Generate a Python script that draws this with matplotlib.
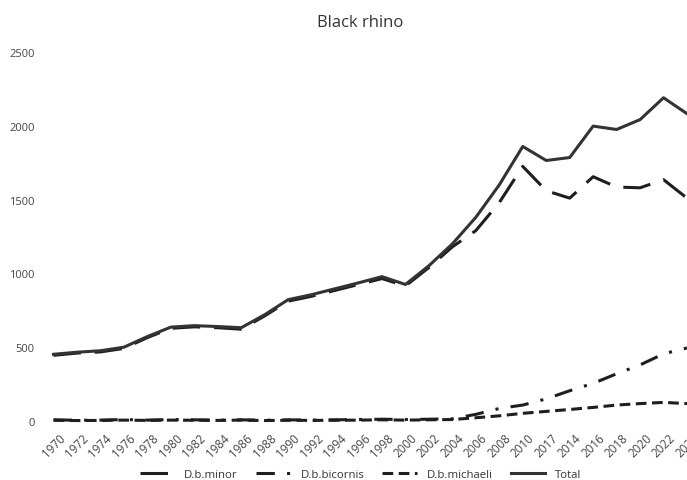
import matplotlib.pyplot as plt

plt.rcParams['font.family'] = ['Open Sans', 'DejaVu Sans']

# Tahun (label kategori, ditulis seperti di gambar asli)
years = ['1970', '1972', '1974', '1976', '1978', '1980', '1982', '1984', '1986', '1988',
         '1990', '1992', '1994', '1996', '1998', '2000', '2002', '2004', '2006', '2008',
         '2010', '2017', '2014', '2016', '2018', '2020', '2022', '2023']

minor = [445, 460, 468, 492, 565, 628, 638, 632, 622, 712,
         812, 845, 885, 925, 965, 915, 1040, 1180, 1290, 1480,
         1725, 1560, 1510, 1655, 1585, 1580, 1635, 1510]
bicornis = [8, 5, 6, 10, 6, 10, 8, 6, 8, 5,
            8, 6, 8, 10, 12, 10, 12, 15, 45, 85,
            108, 150, 205, 255, 320, 380, 455, 495]
michaeli = [5, 3, 4, 6, 4, 6, 5, 4, 6, 3,
            5, 4, 5, 6, 8, 6, 8, 10, 22, 35,
            52, 65, 78, 92, 108, 118, 126, 118]
total = [452, 466, 476, 500, 572, 636, 646, 640, 632, 720,
         822, 856, 896, 936, 978, 925, 1052, 1200, 1380, 1600,
         1860, 1765, 1785, 1998, 1975, 2042, 2190, 2082]

fig = plt.figure(figsize=(6.87, 4.81), dpi=100)
ax = fig.add_axes([50 / 687, 59 / 481, 637 / 687, 369 / 481])

x = list(range(len(years)))
c = '#1e1e1e'
ax.plot(x, minor, color=c, lw=2.2, dashes=(9, 4.5), label='D.b.minor', clip_on=False)
ax.plot(x, bicornis, color=c, lw=2.2, dashes=(6, 4, 1, 4), label='D.b.bicornis', clip_on=False)
ax.plot(x, michaeli, color=c, lw=2.2, dashes=(3.5, 1.8), label='D.b.michaeli', clip_on=False)
ax.plot(x, total, color='#333333', lw=2.2, label='Total', clip_on=False)

ax.set_xlim(-0.15, 26.95)
ax.set_ylim(0, 2500)
ax.set_yticks([0, 500, 1000, 1500, 2000, 2500])
ax.set_xticks(x)
ax.set_xticklabels(years, rotation=45, ha='center')
ax.tick_params(axis='both', length=0, labelsize=8, colors='#444444')
ax.tick_params(axis='x', labelsize=8.4, pad=7)
ax.tick_params(axis='y', pad=11)
for s in ax.spines.values():
    s.set_visible(False)

fig.suptitle('Black rhino', x=0.524, y=0.968, fontsize=12, color='#333333')

fig.legend(loc='center', bbox_to_anchor=(0.525, 0.012), ncol=4, frameon=False,
           fontsize=8.2, handlelength=3.0, handletextpad=0.9, columnspacing=1.6,
           labelcolor='#333333')

fig.savefig('out.png', dpi=100)
